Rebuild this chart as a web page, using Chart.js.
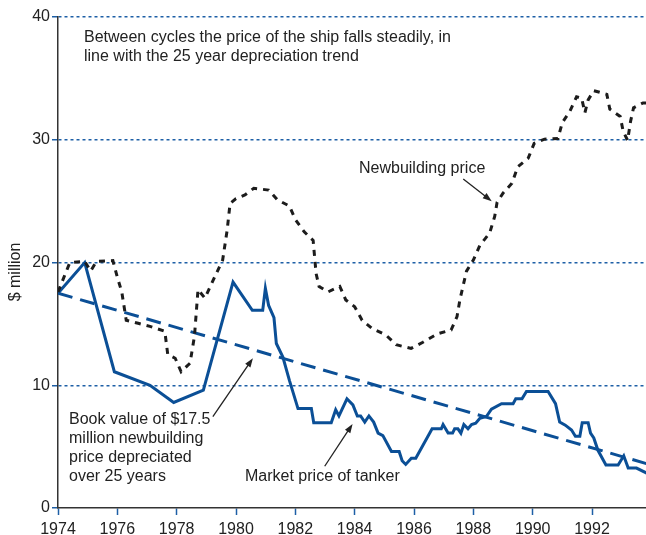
<!DOCTYPE html>
<html>
<head>
<meta charset="utf-8">
<title>Tanker prices 1974-1993</title>
<script src="https://cdn.jsdelivr.net/npm/chart.js@4.4.0/dist/chart.umd.min.js"></script>
<style>
  body { margin: 0; background: #fff; }
  canvas { display: block; }
</style>
</head>
<body>
<canvas id="price-chart" width="646" height="535"></canvas>
<script>
"use strict";

// Data ($ million), x values are fractional years

let newbuildYears = [
  1974.0, 1974.4, 1974.9, 1975.1, 1975.3, 1975.85, 1976.0, 1976.15, 1976.3, 1976.7,
  1977.1, 1977.6, 1977.7, 1977.95, 1978.15, 1978.45, 1978.6, 1978.72, 1978.95, 1979.2,
  1979.55, 1979.7, 1979.8, 1980.0, 1980.3, 1980.6, 1981.1, 1981.4, 1981.8, 1982.0,
  1982.3, 1982.6, 1982.7, 1982.8, 1983.1, 1983.5, 1983.7, 1984.0, 1984.25, 1984.6,
  1985.05, 1985.4, 1985.9, 1986.3, 1986.8, 1987.25, 1987.45, 1987.55, 1987.77, 1988.0,
  1988.22, 1988.55, 1988.72, 1988.8, 1989.0, 1989.3, 1989.5, 1989.85, 1990.05, 1990.4,
  1990.85, 1991.0, 1991.25, 1991.48, 1991.65, 1991.76, 1991.87, 1992.06, 1992.5, 1992.6,
  1992.95, 1993.05, 1993.2, 1993.3, 1993.4, 1993.72, 1993.9
];
let newbuildPrice = [
  17.6, 20.0, 20.1, 19.3, 20.1, 20.15, 18.8, 17.6, 15.3, 15.05,
  14.8, 14.4, 12.5, 12.2, 11.1, 11.8, 14.0, 17.8, 17.1, 18.4,
  20.2, 22.6, 24.8, 25.2, 25.5, 26.05, 25.9, 25.1, 24.6, 23.5,
  22.5, 21.8, 19.1, 18.05, 17.6, 18.05, 16.95, 16.4, 15.3, 14.6,
  14.1, 13.3, 13.0, 13.5, 14.2, 14.5, 15.6, 17.0, 19.3, 20.2,
  21.4, 22.4, 23.75, 24.9, 25.65, 26.45, 27.8, 28.5, 29.7, 30.05,
  30.1, 31.4, 32.3, 33.5, 33.4, 32.2, 33.25, 34.0, 33.7, 32.5,
  31.9, 30.7, 29.95, 31.5, 32.6, 33.0, 33.0
];

let marketYears = [
  1974.0, 1974.9, 1975.9, 1977.1, 1977.9, 1978.9, 1979.9, 1980.55, 1980.9, 1980.99,
  1981.1, 1981.28, 1981.36, 1981.58, 1981.8, 1982.09, 1982.54, 1982.62, 1983.21, 1983.36,
  1983.47, 1983.74, 1983.94, 1984.09, 1984.2, 1984.34, 1984.48, 1984.64, 1984.79, 1984.95,
  1985.24, 1985.5, 1985.6, 1985.72, 1985.91, 1986.06, 1986.61, 1986.92, 1986.98, 1987.15,
  1987.3, 1987.37, 1987.48, 1987.58, 1987.68, 1987.82, 1987.94, 1988.08, 1988.22, 1988.44,
  1988.61, 1988.95, 1989.34, 1989.43, 1989.64, 1989.79, 1990.52, 1990.77, 1990.91, 1991.1,
  1991.31, 1991.44, 1991.59, 1991.67, 1991.87, 1991.95, 1992.06, 1992.2, 1992.47, 1992.88,
  1993.07, 1993.22, 1993.5, 1993.88
];
let marketPrice = [
  17.5, 20.0, 11.1, 10.0, 8.6, 9.6, 18.4, 16.1, 16.1, 17.9,
  16.5, 15.5, 13.4, 12.3, 10.4, 8.1, 8.1, 6.95, 6.95, 8.0,
  7.5, 8.9, 8.4, 7.5, 7.5, 7.0, 7.5, 7.0, 6.1, 5.9,
  4.6, 4.6, 3.85, 3.55, 4.05, 4.05, 6.45, 6.45, 6.8, 6.1,
  6.1, 6.45, 6.45, 6.1, 6.8, 6.45, 6.8, 6.9, 7.3, 7.45,
  8.05, 8.5, 8.5, 8.9, 8.9, 9.5, 9.5, 8.5, 7.0, 6.75,
  6.35, 5.85, 5.85, 6.95, 6.95, 6.1, 5.7, 4.7, 3.5, 3.5,
  4.25, 3.25, 3.25, 2.8
];

// $17.5m newbuilding written down over 25 years
let bookYears = [1974, 1994];
let bookValue = [17.5, 3.5];

let yearTicks = [1974, 1976, 1978, 1980, 1982, 1984, 1986, 1988, 1990, 1992];
let valueTicks = [0, 10, 20, 30, 40];

const BLUE = "#0b4f96";
const GRID_BLUE = "#1d5fa6";
const INK = "#222222";
const FONT = '"Liberation Sans", Arial, Helvetica, sans-serif';

function toPoints(xs, ys) {
  let pts = [];
  for (let i = 0; i < xs.length; i++) {
    pts.push({ x: xs[i], y: ys[i] });
  }
  return pts;
}

// Text labels and pointer arrows (arrow ends given in data units)

let notes = [
  { text: "Between cycles the price of the ship falls steadily, in", x: 84, y: 38 },
  { text: "line with the 25 year depreciation trend", x: 84, y: 57 },
  { text: "Newbuilding price", x: 359, y: 169 },
  { text: "Book value of $17.5", x: 69, y: 420 },
  { text: "million newbuilding", x: 69, y: 439 },
  { text: "price depreciated", x: 69, y: 458 },
  { text: "over 25 years", x: 69, y: 477 },
  { text: "Market price of tanker", x: 245, y: 477 },
];

let arrows = [
  { from: [1987.66, 26.8], to: [1988.62, 25.0] },
  { from: [1979.22, 7.45], to: [1980.57, 12.2] },
  { from: [1982.99, 3.4], to: [1983.93, 6.85] },
];

function drawArrow(ctx, x1, y1, x2, y2) {
  let angle = Math.atan2(y2 - y1, x2 - x1);
  let len = 9;
  ctx.beginPath();
  ctx.moveTo(x1, y1);
  ctx.lineTo(x2 - Math.cos(angle) * len * 0.8, y2 - Math.sin(angle) * len * 0.8);
  ctx.stroke();
  ctx.beginPath();
  ctx.moveTo(x2, y2);
  ctx.lineTo(x2 - len * Math.cos(angle) + 3.2 * Math.sin(angle), y2 - len * Math.sin(angle) - 3.2 * Math.cos(angle));
  ctx.lineTo(x2 - len * Math.cos(angle) - 3.2 * Math.sin(angle), y2 - len * Math.sin(angle) + 3.2 * Math.cos(angle));
  ctx.closePath();
  ctx.fill();
}

const notesPlugin = {
  id: "notes",
  afterDatasetsDraw(chart) {
    let ctx = chart.ctx;
    let xs = chart.scales.x;
    let ys = chart.scales.y;
    ctx.save();
    ctx.font = "16px " + FONT;
    ctx.fillStyle = INK;
    ctx.strokeStyle = INK;
    ctx.lineWidth = 1.3;
    ctx.textBaseline = "middle";
    ctx.textAlign = "left";
    for (let i = 0; i < notes.length; i++) {
      ctx.fillText(notes[i].text, notes[i].x, notes[i].y);
    }
    for (let i = 0; i < arrows.length; i++) {
      let a = arrows[i];
      drawArrow(ctx,
        xs.getPixelForValue(a.from[0]), ys.getPixelForValue(a.from[1]),
        xs.getPixelForValue(a.to[0]), ys.getPixelForValue(a.to[1]));
    }
    // axis title
    ctx.translate(16, 272);
    ctx.rotate(-Math.PI / 2);
    ctx.textAlign = "center";
    ctx.fillText("$ million", 0, 0);
    ctx.restore();
  },
};

Chart.defaults.font.family = FONT;
Chart.defaults.font.size = 16;
Chart.defaults.color = INK;

let ctx = document.getElementById("price-chart").getContext("2d");

let priceChart = new Chart(ctx, {
  type: "line",
  data: {
    datasets: [
      {
        label: "Newbuilding price",
        data: toPoints(newbuildYears, newbuildPrice),
        borderColor: "#1c1c1c",
        borderWidth: 3,
        borderDash: [6, 6],
        pointRadius: 0,
        tension: 0,
      },
      {
        label: "Book value",
        data: toPoints(bookYears, bookValue),
        borderColor: BLUE,
        borderWidth: 3,
        borderDash: [15, 8],
        pointRadius: 0,
        tension: 0,
      },
      {
        label: "Market price of tanker",
        data: toPoints(marketYears, marketPrice),
        borderColor: BLUE,
        borderWidth: 3,
        pointRadius: 0,
        tension: 0,
      },
    ],
  },
  options: {
    responsive: false,
    animation: false,
    layout: { padding: { top: 17, right: 0, left: 0, bottom: 0 } },
    plugins: {
      legend: { display: false },
      tooltip: { enabled: false },
    },
    scales: {
      x: {
        type: "linear",
        min: 1974,
        max: 1993.82,
        afterFit: (scale) => { scale.height = 27; },
        afterBuildTicks: (scale) => {
          scale.ticks = yearTicks.map((v) => ({ value: v }));
        },
        ticks: {
          padding: 5,
          maxRotation: 0,
          autoSkip: false,
          callback: (value) => String(value),
        },
        grid: {
          drawOnChartArea: false,
          tickColor: GRID_BLUE,
          tickLength: 7,
          tickWidth: 1.5,
        },
        border: { color: "#333333", width: 1.5 },
      },
      y: {
        min: 0,
        max: 40,
        afterFit: (scale) => { scale.width = 58; },
        afterBuildTicks: (scale) => {
          scale.ticks = valueTicks.map((v) => ({ value: v }));
        },
        ticks: {
          padding: 2,
          callback: (value) => String(value),
        },
        grid: {
          color: (c) => (c.tick && c.tick.value === 0 ? "rgba(0,0,0,0)" : GRID_BLUE),
          lineWidth: 1.5,
          tickColor: GRID_BLUE,
          tickLength: 6,
          tickWidth: 1.5,
        },
        border: { color: "#333333", width: 1.5, dash: [3, 3] },
      },
    },
  },
  plugins: [notesPlugin],
});
</script>
</body>
</html>
